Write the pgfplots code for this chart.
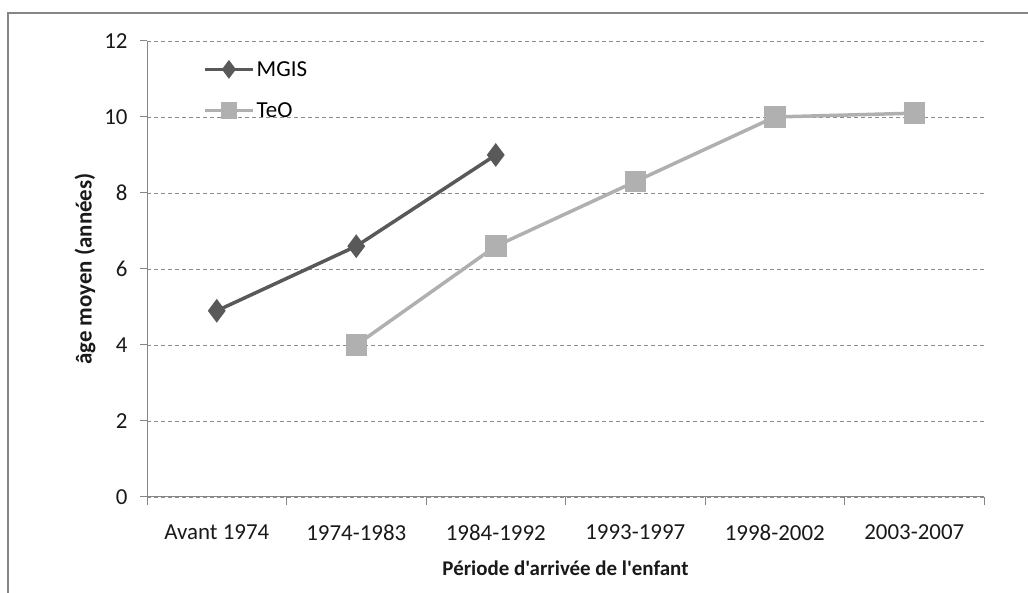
\documentclass[border=0pt]{standalone}
\usepackage{fontspec}
\setmainfont{Carlito}[Ligatures=TeXOff]
\usepackage{pgfplots}
\pgfplotsset{compat=1.18}
\definecolor{cMgis}{RGB}{89,89,89}
\definecolor{cTeo}{RGB}{176,176,176}
\definecolor{cAxis}{RGB}{134,134,134}
\definecolor{cGrid}{RGB}{140,140,140}

\begin{document}
\begin{tikzpicture}[x=1bp,y=1bp]
\useasboundingbox (0,0) rectangle (1028,593);
\draw[cAxis, line width=1.5bp] (8,0) -- (8,580) -- (1028,580);
\begin{axis}[
  at={(147bp,96bp)}, anchor=south west,
  width=837bp, height=456bp, scale only axis,
  xmin=-0.5, xmax=5.5, ymin=0, ymax=12,
  axis lines*=left, axis line style={draw=cAxis, line width=1bp, -},
  xtick={0,...,5},
  xticklabels={Avant 1974,1974-1983,1984-1992,1993-1997,1998-2002,2003-2007},
  major x tick style={draw=none},
  minor xtick={-0.5,0.5,...,5.5},
  ytick={0,2,...,12},
  tick align=outside, major tick length=7bp, minor tick length=8bp,
  tick style={draw=cAxis, line width=1bp},
  ymajorgrids, grid style={dash pattern=on 4bp off 3bp, draw=cGrid, line width=0.8bp},
  /pgf/number format/assume math mode=true,
  ticklabel style={font=\fontsize{23}{27}\selectfont, text=black!90},
  xticklabel style={yshift=-17bp},
  yticklabel style={xshift=-9bp},
  xlabel={Période d'arrivée de l'enfant},
  ylabel={âge moyen (années)},
  label style={font=\bfseries\fontsize{21}{25}\selectfont, text=black!90},
  xlabel style={at={(rel axis cs:0.5,0)}, anchor=center, yshift=-71bp},
  ylabel style={at={([xshift=-62bp]rel axis cs:0,0.5)}, anchor=center,
    font=\bfseries\fontsize{23}{27}\selectfont},
  legend style={draw=none, fill=none, at={(56bp,438bp)}, anchor=north west,
    font=\fontsize{23}{27}\selectfont, row sep=21bp, inner sep=0pt,
    nodes={inner sep=2bp}},
  legend cell align=left,
  legend image post style={mark size=6.5bp},
  legend image code/.code={\draw[mark repeat=2,mark phase=2,#1]
    plot coordinates {(0bp,0bp) (24bp,0bp) (48bp,0bp)};},
]
\addplot[color=cMgis, line width=3.5bp, mark=diamond*, mark size=9bp,
  mark options={solid}] coordinates {(0,4.9) (1,6.6) (2,9.0)};
\addlegendentry{MGIS}
\addplot[color=cTeo, line width=3.5bp, mark=square*, mark size=9bp,
  mark options={solid}] coordinates {(1,4.0) (2,6.6) (3,8.3) (4,10.0) (5,10.1)};
\addlegendentry{TeO}
\end{axis}
\end{tikzpicture}
\end{document}
